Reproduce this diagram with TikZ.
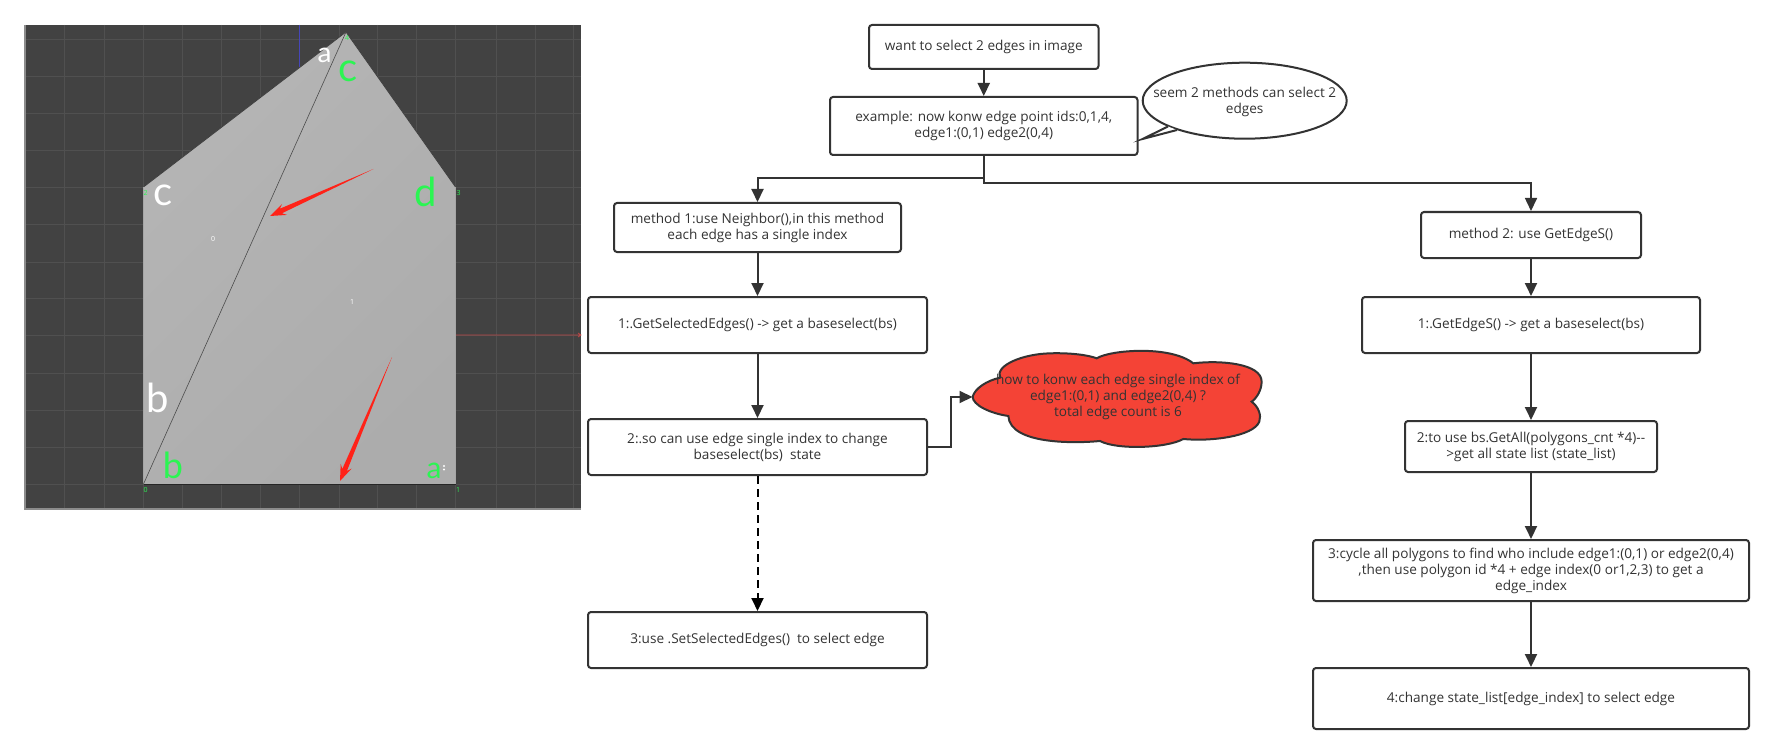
\documentclass[tikz,border=0pt]{standalone}
\usepackage{fontspec}
\setmainfont{Open Sans}
\newfontfamily\handfont{Lato}
\usetikzlibrary{arrows.meta,shapes.geometric}
\definecolor{ink}{HTML}{333333}
\definecolor{bgdark}{HTML}{424242}
\definecolor{gridc}{HTML}{505050}
\definecolor{greenmark}{HTML}{2BF552}
\definecolor{redmark}{HTML}{FF2218}
\definecolor{cloudred}{HTML}{F44336}
\tikzset{
  x=1pt,y=-1pt,
  stepbox/.style={draw=ink,line width=2pt,rounded corners=3pt,fill=white,text=ink,align=center,inner sep=0pt,font=\fontsize{13.6}{16}\selectfont},
  conn/.style={draw=ink,line width=2pt,-{Triangle[length=13pt,width=12pt]}},
  hand/.style={inner sep=0pt,font=\handfont\fontsize{#1}{#1}\selectfont},
  idnum/.style={inner sep=0pt,font=\fontsize{7}{7}\selectfont}
}
\begin{document}
\begin{tikzpicture}
\useasboundingbox (0,0) rectangle (1774,754);
\fill[white] (0,0) rectangle (1774,754);
% viewport
\fill[bgdark] (25,25) rectangle (581,509);
\foreach \gx in {64,104,143,182,221,260,299,339,377,416,455,496,535,573}
  \draw[gridc,line width=.8pt] (\gx,25) -- (\gx,509);
\foreach \gy in {39,76,113,150,187,224,262,298,335,373,410,447,484}
  \draw[gridc,line width=.8pt] (25,\gy) -- (581,\gy);
\draw[color=gray!90,line width=1.2pt] (25,25) -- (25,509) -- (581,509);
\draw[color=blue!45!gray,line width=.8pt] (299,25) -- (299,68);
\draw[color=red!45!gray,line width=.8pt] (455,335) -- (581,335) (578,333) -- (581,335) -- (578,337);
% polygon
\shade[left color=gray!58!white,right color=gray!65!white,shading angle=45]
  (143.5,484) -- (143.5,187) -- (346,32) -- (455.5,187) -- (455.5,484) -- cycle;
\draw[color=black!75,line width=.8pt] (143.5,187) -- (346,32) -- (455.5,187);
\draw[color=black!35,line width=.8pt] (143.5,187) -- (143.5,484) (455.5,187) -- (455.5,484);
\draw[color=black!85,line width=1.2pt] (143.5,484.5) -- (455.5,484.5);
\draw[color=black!70,line width=.6pt] (143.5,484) -- (346,32);
% red arrows
\fill[redmark] (373.5,169) -- (279.9,208.7) -- (282.1,203.9) -- (270,216) -- (287.1,214.9) -- (281.9,213.3) -- cycle;
\fill[redmark] (392,357) -- (342.3,469) -- (340.7,463.9) -- (340,481) -- (351.7,468.5) -- (346.9,471) -- cycle;
% hand marks
\node[hand=28,text=white] (ma) at (324.5,55) {a};
\node[hand=40,text=greenmark] (mc) at (348,71) {c};
\node[hand=40,text=white] (mcw) at (163,195) {c};
\node[hand=40,text=greenmark] (md) at (425.5,192) {d};
\node[hand=40,text=white] (mb) at (158,398) {b};
\node[hand=36,text=greenmark] (mbg) at (173,465) {b};
\node[hand=30,text=greenmark] (mag) at (434,471) {a};
\fill[white] (444,466) circle (1.2pt) (444,469.5) circle (1.2pt);
\node[idnum,text=greenmark] (n2) at (145.5,193) {2};
\node[idnum,text=greenmark] (n3) at (458.5,193) {3};
\node[idnum,text=greenmark] (n4) at (347,38) {4};
\node[idnum,text=greenmark] (n0) at (145.5,490) {0};
\node[idnum,text=greenmark] (n1) at (458,490) {1};
\node[idnum,text=white] (w0) at (213,239) {0};
\node[idnum,text=white] (w1) at (352,302) {1};
% flow boxes
\node[stepbox,minimum width=229.5pt,minimum height=44pt] (want) at (983.75,47) {want to select 2 edges in image};
\node[stepbox,minimum width=307.5pt,minimum height=58pt] (example) at (983.75,126) {example: now konw edge point ids:0,1,4,\\edge1:(0,1) edge2(0,4)};
\node[stepbox,minimum width=287pt,minimum height=49pt] (method1) at (757.5,227.5) {method 1:use Neighbor(),in this method\\each edge has a single index};
\node[stepbox,minimum width=339pt,minimum height=56pt] (l1) at (757.5,325) {1:.GetSelectedEdges() -> get a baseselect(bs)};
\node[stepbox,minimum width=339pt,minimum height=56pt] (l2) at (757.5,447) {2:.so can use edge single index to change\\baseselect(bs)\ \ state};
\node[stepbox,minimum width=339pt,minimum height=56pt] (l3) at (757.5,640) {3:use .SetSelectedEdges()\ \ to select edge};
\node[stepbox,minimum width=220pt,minimum height=46pt] (method2) at (1531,235) {method 2: use GetEdgeS()};
\node[stepbox,minimum width=338pt,minimum height=56pt] (r1) at (1531,325) {1:.GetEdgeS() -> get a baseselect(bs)};
\node[stepbox,minimum width=252pt,minimum height=51pt] (r2) at (1531,446.5) {2:to use bs.GetAll(polygons\_cnt *4){-}{-}\\>get all state list (state\_list)};
\node[stepbox,minimum width=436pt,minimum height=61pt] (r3) at (1531,570.5) {3:cycle all polygons to find who include edge1:(0,1) or edge2(0,4)\\,then use polygon id *4 + edge index(0 or1,2,3) to get a\\edge\_index};
\node[stepbox,minimum width=436pt,minimum height=61pt] (r4) at (1531,698.5) {4:change state\_list[edge\_index] to select edge};
% speech bubble
\node[ellipse,draw=ink,line width=2pt,fill=white,inner sep=0pt,minimum width=204pt,minimum height=76pt] (bubble) at (1244.7,100.7) {};
\coordinate (tailA) at (1168,126.5);
\coordinate (tailTip) at (1142.5,139);
\coordinate (tailB) at (1177,130);
\draw[draw=ink,line width=2pt,fill=white,line join=miter] (tailA) -- (tailTip) -- (tailB);
\node[text=ink,align=center,inner sep=0pt,font=\fontsize{13.6}{16}\selectfont] (bubbletext) at (1244.7,102) {seem 2 methods can select 2\\edges};
% cloud
\begin{scope}[shift={(900,340)},x=.3333pt,y=-.3333pt]
\draw[draw=ink,line width=2pt,fill=cloudred]
 (218,170) .. controls (225,145) and (260,122) .. (300,113)
 .. controls (285,75) and (370,42) .. (450,40)
 .. controls (510,38) and (565,45) .. (590,55)
 .. controls (630,30) and (810,15) .. (880,70)
 .. controls (960,60) and (1085,70) .. (1085,125)
 .. controls (1085,150) and (1070,175) .. (1055,185)
 .. controls (1075,200) and (1085,225) .. (1078,245)
 .. controls (1060,290) and (930,305) .. (850,297)
 .. controls (800,325) and (650,330) .. (600,303)
 .. controls (530,310) and (330,315) .. (325,228)
 .. controls (270,220) and (218,195) .. (218,170) -- cycle;
\end{scope}
\node[inner sep=0pt,text=ink,align=center,font=\fontsize{13.6}{16}\selectfont] (cloud) at (1118,397) {how to konw each edge single index of\\edge1:(0,1) and edge2(0,4) ?\\total edge count is 6};
\coordinate (cloudIn) at (972.5,397);
% connectors
\coordinate (elbowL) at (757.5,178);
\coordinate (elbowR) at (1531,183);
\draw[conn] (want) -- (example);
\draw[conn] (example.south) |- (elbowL) -- (method1.north);
\draw[conn,line width=1.6pt] (example.south) |- (elbowR) -- (method2.north);
\draw[conn] (method1) -- (l1);
\draw[conn] (l1) -- (l2);
\draw[conn,draw=black,dash pattern=on 8pt off 5pt,-{Triangle[length=13pt,width=12pt,fill=black]}] (l2) -- (l3);
\draw[conn] (l2.east) -- ++(22.5,0) |- (cloudIn);
\draw[conn] (method2) -- (r1);
\draw[conn] (r1) -- (r2);
\draw[conn] (r2) -- (r3);
\draw[conn] (r3) -- (r4);
\end{tikzpicture}
\end{document}
